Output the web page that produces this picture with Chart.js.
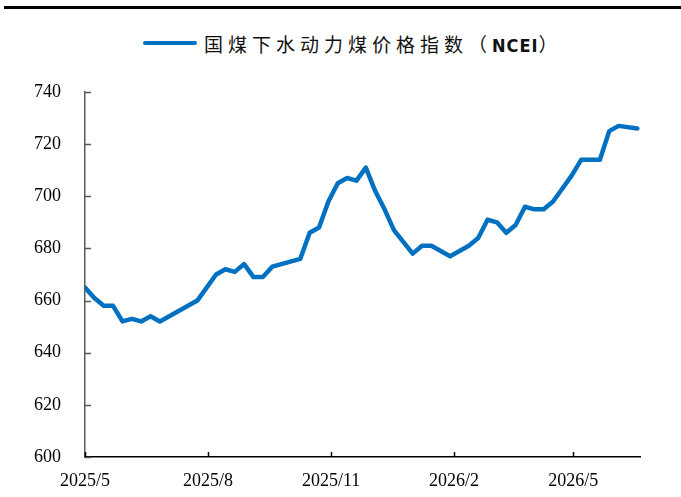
<!DOCTYPE html>
<html>
<head>
<meta charset="utf-8">
<script src="https://cdn.jsdelivr.net/npm/chart.js@4.4.1/dist/chart.umd.min.js"></script>
<style>
  html, body { margin: 0; padding: 0; background: #fff; }
  #wrap { position: relative; width: 681px; height: 497px; }
  #rule { position: absolute; left: 4px; right: 0; top: 6px; height: 3px; background: #000; }
  #legend { position: absolute; top: 31px; left: 143px; height: 24px; display: flex; align-items: center; }
  #legend .swatch { width: 54px; height: 4px; border-radius: 2px; background: #0070C0; margin-right: 7px; }
  #legend .label { font-family: "Noto Sans CJK SC", sans-serif; font-size: 19px; letter-spacing: 5px; color: #111; white-space: nowrap; }
  #legend .latin { letter-spacing: 1px; font-family: "Liberation Sans Narrow", "DejaVu Sans Condensed", sans-serif; font-weight: bold; font-size: 18px; }
  canvas { position: absolute; left: 0; top: 0; }
</style>
</head>
<body>
<div id="wrap">
  <div id="rule"></div>
  <div id="legend"><span class="swatch"></span><span class="label" id="legendText"></span></div>
  <canvas id="chartCanvas" width="681" height="497"></canvas>
</div>
<script>
const SERIES_NAME = "国煤下水动力煤价格指数（NCEI）";

// weekly observation dates
const dates = [
  "2025-05-01", "2025-05-08", "2025-05-15", "2025-05-22", "2025-05-29",
  "2025-06-05", "2025-06-12", "2025-06-19", "2025-06-26", "2025-07-24",
  "2025-08-07", "2025-08-14", "2025-08-21", "2025-08-28", "2025-09-04",
  "2025-09-11", "2025-09-18", "2025-10-09", "2025-10-16", "2025-10-23",
  "2025-10-30", "2025-11-06", "2025-11-13", "2025-11-20", "2025-11-27",
  "2025-12-04", "2025-12-11", "2025-12-18", "2026-01-01", "2026-01-08",
  "2026-01-15", "2026-01-29", "2026-02-05", "2026-02-12", "2026-02-19",
  "2026-02-26", "2026-03-05", "2026-03-12", "2026-03-19", "2026-03-26",
  "2026-04-02", "2026-04-09", "2026-04-16", "2026-04-23", "2026-04-30",
  "2026-05-07", "2026-05-21", "2026-05-28", "2026-06-04", "2026-06-18"
];

const ncei = [
  665, 661, 658, 658, 652,
  653, 652, 654, 652, 660,
  670, 672, 671, 674, 669,
  669, 673, 676, 686, 688,
  698, 705, 707, 706, 711,
  702, 695, 687, 678, 681,
  681, 677, 679, 681, 684,
  691, 690, 686, 689, 696,
  695, 695, 698, 703, 708,
  714, 714, 725, 727, 726
];

const tickLabels = ["2025/5", "2025/8", "2025/11", "2026/2", "2026/5"];
const axisEnd = "2026-06-19";

const DAY = 86400000;
const origin = Date.UTC(2025, 4, 1);
function dayOf(str) {
  const [y, m, d] = str.split(/[-\/]/).map(Number);
  return Math.round((Date.UTC(y, m - 1, d || 1) - origin) / DAY);
}
const tickDays = tickLabels.map(dayOf);

// legend: keep the latin abbreviation narrow like the original
const legendEl = document.getElementById("legendText");
SERIES_NAME.split(/(NCEI)/).forEach(part => {
  if (!part) return;
  const span = document.createElement("span");
  if (part === "NCEI") span.className = "latin";
  span.textContent = part;
  legendEl.appendChild(span);
});

const AXIS_FONT = { family: "'Liberation Serif', 'Times New Roman', serif", size: 18 };

// small inward tick marks on both axes
const innerTicks = {
  id: "innerTicks",
  afterDraw(chart) {
    const { ctx, scales: { x, y } } = chart;
    ctx.save();
    ctx.lineWidth = 1.5;
    ctx.strokeStyle = "#595959";
    y.ticks.forEach(t => {
      const py = Math.round(y.getPixelForValue(t.value)) + 0.5;
      ctx.beginPath();
      ctx.moveTo(x.left, py);
      ctx.lineTo(x.left + 6, py);
      ctx.stroke();
    });
    ctx.strokeStyle = "#000";
    x.ticks.forEach(t => {
      const px = Math.round(x.getPixelForValue(t.value)) + 0.5;
      ctx.beginPath();
      ctx.moveTo(px, y.bottom);
      ctx.lineTo(px, y.bottom - 5);
      ctx.stroke();
    });
    ctx.restore();
  }
};

new Chart(document.getElementById("chartCanvas"), {
  type: "line",
  data: {
    datasets: [{
      label: SERIES_NAME,
      data: dates.map((d, i) => ({ x: dayOf(d), y: ncei[i] })),
      borderColor: "#0070C0",
      borderWidth: 4.5,
      pointRadius: 0,
      tension: 0,
      borderJoinStyle: "round",
      borderCapStyle: "round",
      fill: false
    }]
  },
  options: {
    responsive: false,
    animation: false,
    layout: { padding: { left: 0, top: 92, right: 41, bottom: 0 } },
    plugins: {
      legend: { display: false },
      tooltip: { enabled: false }
    },
    scales: {
      x: {
        type: "linear",
        min: 0,
        max: dayOf(axisEnd) + 1,
        afterBuildTicks: s => { s.ticks = tickDays.map(v => ({ value: v })); },
        afterFit: s => { s.height = 40; },
        grid: { display: false, drawTicks: false },
        border: { display: true, color: "#000", width: 1.5 },
        ticks: {
          autoSkip: false,
          maxRotation: 0,
          padding: 13,
          color: "#000",
          font: AXIS_FONT,
          callback: v => tickLabels[tickDays.indexOf(v)] || ""
        }
      },
      y: {
        min: 600,
        max: 740,
        afterFit: s => { s.width = 85; },
        grid: { display: false, drawTicks: false },
        border: { display: true, color: "#595959", width: 1.5 },
        ticks: {
          stepSize: 20,
          padding: 24,
          color: "#000",
          font: AXIS_FONT
        }
      }
    }
  },
  plugins: [innerTicks]
});
</script>
</body>
</html>
